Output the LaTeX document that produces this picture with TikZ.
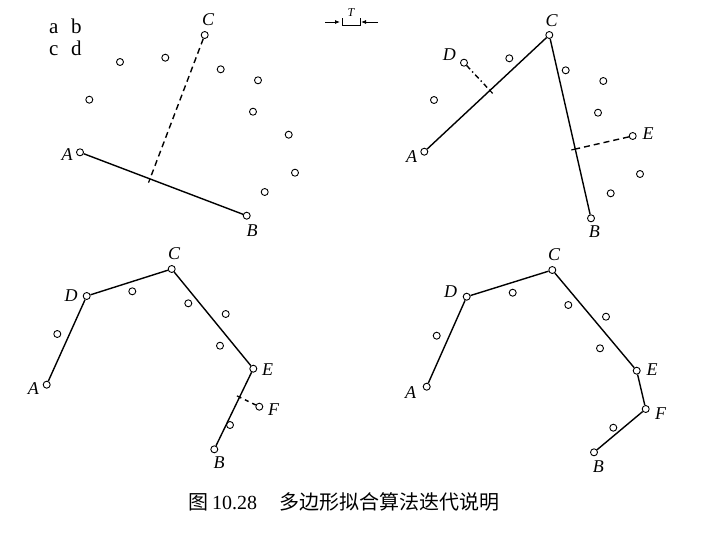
\documentclass[tikz,border=0pt]{standalone}
\usepackage{fontspec}
\setmainfont{Liberation Serif}
\newfontfamily\cjk{Noto Sans CJK SC}
\usetikzlibrary{calc,arrows.meta}
\tikzset{
  pt/.style={circle,draw,line width=0.9pt,inner sep=0pt,minimum size=7pt,fill=white},
  lab/.style={font=\fontsize{18}{18}\selectfont\itshape,inner sep=0pt},
  seg/.style={line width=1.4pt},
  dsh/.style={line width=1.4pt,dash pattern=on 6pt off 4pt},
  tickm/.style={line width=1.2pt}
}
\begin{document}
\begin{tikzpicture}[x=1pt,y=-1pt]
\useasboundingbox[fill=white] (0,0) rectangle (711,533);
% legend
\node[font=\fontsize{21}{21}\selectfont,anchor=base west,inner sep=0pt] (leg1) at (49,33) {a\hspace{0.6em}b};
\node[font=\fontsize{21}{21}\selectfont,anchor=base west,inner sep=0pt] (leg2) at (49,55) {c\hspace{0.6em}d};
% T marker
\node[font=\fontsize{12}{12}\selectfont\itshape,inner sep=0pt] (Tl) at (351,13) {T};
\coordinate (t1) at (325,22); \coordinate (t2) at (340,22);
\coordinate (t3) at (378,22); \coordinate (t4) at (361,22);
\draw[line width=0.8pt,-{Latex[length=5pt,width=4pt]}] (t1) -- (t2);
\draw[line width=0.8pt,-{Latex[length=5pt,width=4pt]}] (t3) -- (t4);
\coordinate (b1) at (342,18); \coordinate (b2) at (342,25);
\coordinate (b3) at (360,25); \coordinate (b4) at (360,18);
\draw[line width=0.6pt] (b1) -- (b2) -- (b3) -- (b4);

% ---------- panel 1 ----------
\node[pt] (A1) at (80,152.3) {};
\node[pt] (B1) at (246.7,215.7) {};
\node[pt] (C1) at (204.7,35) {};
\foreach \p in {(120,62),(165.3,57.7),(220.7,69.3),(258,80.3),(89.3,99.7),(253,111.7),(288.7,134.7),(295,172.7),(264.7,192)}
  \node[pt] at \p {};
\node[lab] (lA1) at (67,155) {A};
\node[lab] (lB1) at (252,231) {B};
\node[lab] (lC1) at (208,20) {C};
\draw[seg] (A1) -- (B1);
\coordinate (F1) at ($(A1)!(C1)!(B1)$);
\draw[dsh] (C1) -- (F1);
\draw[tickm] (F1) -- ($(F1)!-4pt!(C1)$);

% ---------- panel 2 ----------
\node[pt] (A2) at (424.3,151.7) {};
\node[pt] (B2) at (591,218.3) {};
\node[pt] (C2) at (549.3,35) {};
\node[pt] (D2) at (464,62.7) {};
\node[pt] (E2) at (632.7,136) {};
\foreach \p in {(509.3,58.3),(434,100),(565.7,70.3),(603.3,81),(598,112.7),(640,174),(610.7,193.3)}
  \node[pt] at \p {};
\node[lab] (lA2) at (411.7,156.7) {A};
\node[lab] (lB2) at (594.3,232) {B};
\node[lab] (lC2) at (551.7,21) {C};
\node[lab] (lD2) at (449.3,55) {D};
\node[lab] (lE2) at (648,134) {E};
\draw[seg] (A2) -- (C2) -- (B2);
\coordinate (F2) at ($(A2)!(D2)!(C2)$);
\coordinate (G2) at ($(C2)!(E2)!(B2)$);
\draw[line width=1.4pt,dash pattern=on 5pt off 3pt on 1.5pt off 3pt] (D2) -- (F2);
\draw[dsh] (E2) -- (G2);
\draw[tickm] (F2) -- ($(F2)!-4pt!(D2)$);
\draw[tickm] (G2) -- ($(G2)!-4pt!(E2)$);

% ---------- panel 3 ----------
\node[pt] (A3) at (46.7,384.7) {};
\node[pt] (B3) at (214.3,449.3) {};
\node[pt] (C3) at (171.7,269) {};
\node[pt] (D3) at (86.7,296) {};
\node[pt] (E3) at (253.3,368.7) {};
\node[pt] (F3) at (259.3,406.7) {};
\foreach \p in {(132.3,291.3),(188.3,303.3),(225.7,314),(220,345.7),(57.3,334),(230,425)}
  \node[pt] at \p {};
\node[lab] (lA3) at (33.3,388.3) {A};
\node[lab] (lB3) at (219,463) {B};
\node[lab] (lC3) at (174,254) {C};
\node[lab] (lD3) at (71,296) {D};
\node[lab] (lE3) at (267.5,370) {E};
\node[lab] (lF3) at (273.5,410) {F};
\draw[seg] (A3) -- (D3) -- (C3) -- (E3) -- (B3);
\coordinate (G3) at ($(E3)!(F3)!(B3)$);
\draw[line width=1.4pt,dash pattern=on 4pt off 4pt] (F3) -- (G3);
\draw[tickm] (G3) -- ($(G3)!-3pt!(F3)$);

% ---------- panel 4 ----------
\node[pt] (A4) at (426.7,386.7) {};
\node[pt] (B4) at (594,452.3) {};
\node[pt] (C4) at (552.3,270) {};
\node[pt] (D4) at (466.7,296.7) {};
\node[pt] (E4) at (636.7,370.7) {};
\node[pt] (F4) at (645.7,409) {};
\foreach \p in {(512.7,292.7),(568.3,305),(606,316.7),(600,348.3),(436.7,335.7),(613.3,427.7)}
  \node[pt] at \p {};
\node[lab] (lA4) at (410.7,392.7) {A};
\node[lab] (lB4) at (598.3,466.7) {B};
\node[lab] (lC4) at (554,255) {C};
\node[lab] (lD4) at (450.7,291.7) {D};
\node[lab] (lE4) at (652,370) {E};
\node[lab] (lF4) at (660.5,413.3) {F};
\draw[seg] (A4) -- (D4) -- (C4) -- (E4) -- (F4) -- (B4);

% caption
\node[font=\fontsize{20}{20}\selectfont,inner sep=0pt] (cap) at (344,502)
  {{\cjk 图}\,10.28\hspace{1.1em}{\cjk 多边形拟合算法迭代说明}};
\end{tikzpicture}
\end{document}
